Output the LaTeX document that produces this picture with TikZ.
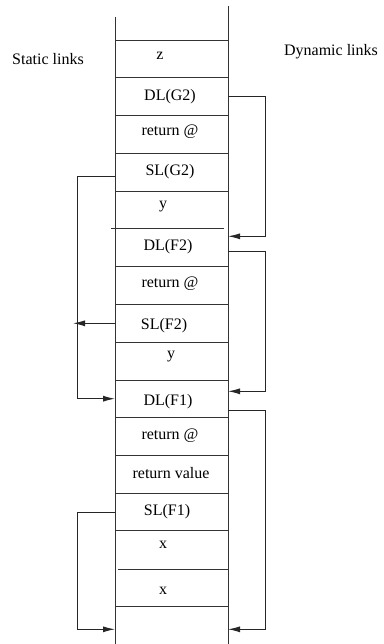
\documentclass[tikz,border=0pt]{standalone}
\usepackage{fontspec}
\setmainfont{Liberation Serif}
\usetikzlibrary{arrows.meta}
\tikzset{
  stackline/.style={draw=black!80,line width=1pt},
  link/.style={draw=black!85,line width=1pt},
  cell/.style={inner sep=0pt},
}
\begin{document}
\begin{tikzpicture}[x=1pt,y=-1pt,font=\fontsize{16}{19}\selectfont,
  >={Latex[length=12pt,width=6pt]}]
\useasboundingbox (0,0) rectangle (383,644);
% stack sides
\draw[stackline](115,17) -- (115,644);
\draw[stackline](228,6) -- (228,644);
% cell borders
\foreach \y in {40.3,78,115.7,153.7,191.3,266.7,304.3,342.3,380,417.7,455,493,530.7,606.7}
  \draw[stackline](115,\y) -- (228,\y);
\draw[stackline](111,228.7) -- (224,228.7);
\draw[stackline](118,569) -- (228,569);
% headings
\node[cell] (static) at (48,59) {Static links};
\node[cell] (dynamic) at (331,52) {Dynamic links};
% frame G2
\node[cell] (z) at (160,56) {z};
\node[cell] (dlg2) at (170,97) {DL(G2)};
\node[cell] (retg2) at (170,132) {return @};
\node[cell] (slg2) at (170,172) {SL(G2)};
\node[cell] (yg2) at (163,207) {y};
% frame F2
\node[cell] (dlf2) at (168,247) {DL(F2)};
\node[cell] (retf2) at (170,284) {return @};
\node[cell] (slf2) at (164,326) {SL(F2)};
\node[cell] (yf2) at (171,357) {y};
% frame F1
\node[cell] (dlf1) at (168,402) {DL(F1)};
\node[cell] (retf1) at (170,436) {return @};
\node[cell] (rvf1) at (171,473) {return value};
\node[cell] (slf1) at (167,512) {SL(F1)};
\node[cell] (xa) at (163,545) {x};
\node[cell] (xb) at (163,591) {x};
% link ends on the stack sides
\coordinate (slg2out) at (115,177);
\coordinate (slf2out) at (115,323.3);
\coordinate (slf1out) at (115,512.3);
\coordinate (dlf1sl) at (115,398.7);
\coordinate (botsl) at (115,629.3);
\coordinate (dlg2out) at (228,96.7);
\coordinate (dlf2in) at (228,236.3);
\coordinate (dlf2out) at (228,251.7);
\coordinate (dlf1in) at (228,391.3);
\coordinate (dlf1out) at (228,410.3);
\coordinate (botdl) at (228,629.3);
% static links
\draw[link,->](slg2out) -- ++(-38,0) |- (dlf1sl);
\draw[link,->](slf2out) -- ++(-42,0);
\draw[link,->](slf1out) -- ++(-38,0) |- (botsl);
% dynamic links
\draw[link,->](dlg2out) -- ++(37.7,0) |- (dlf2in);
\draw[link,->](dlf2out) -- ++(37.7,0) |- (dlf1in);
\draw[link,->](dlf1out) -- ++(37.7,0) |- (botdl);
\end{tikzpicture}
\end{document}
